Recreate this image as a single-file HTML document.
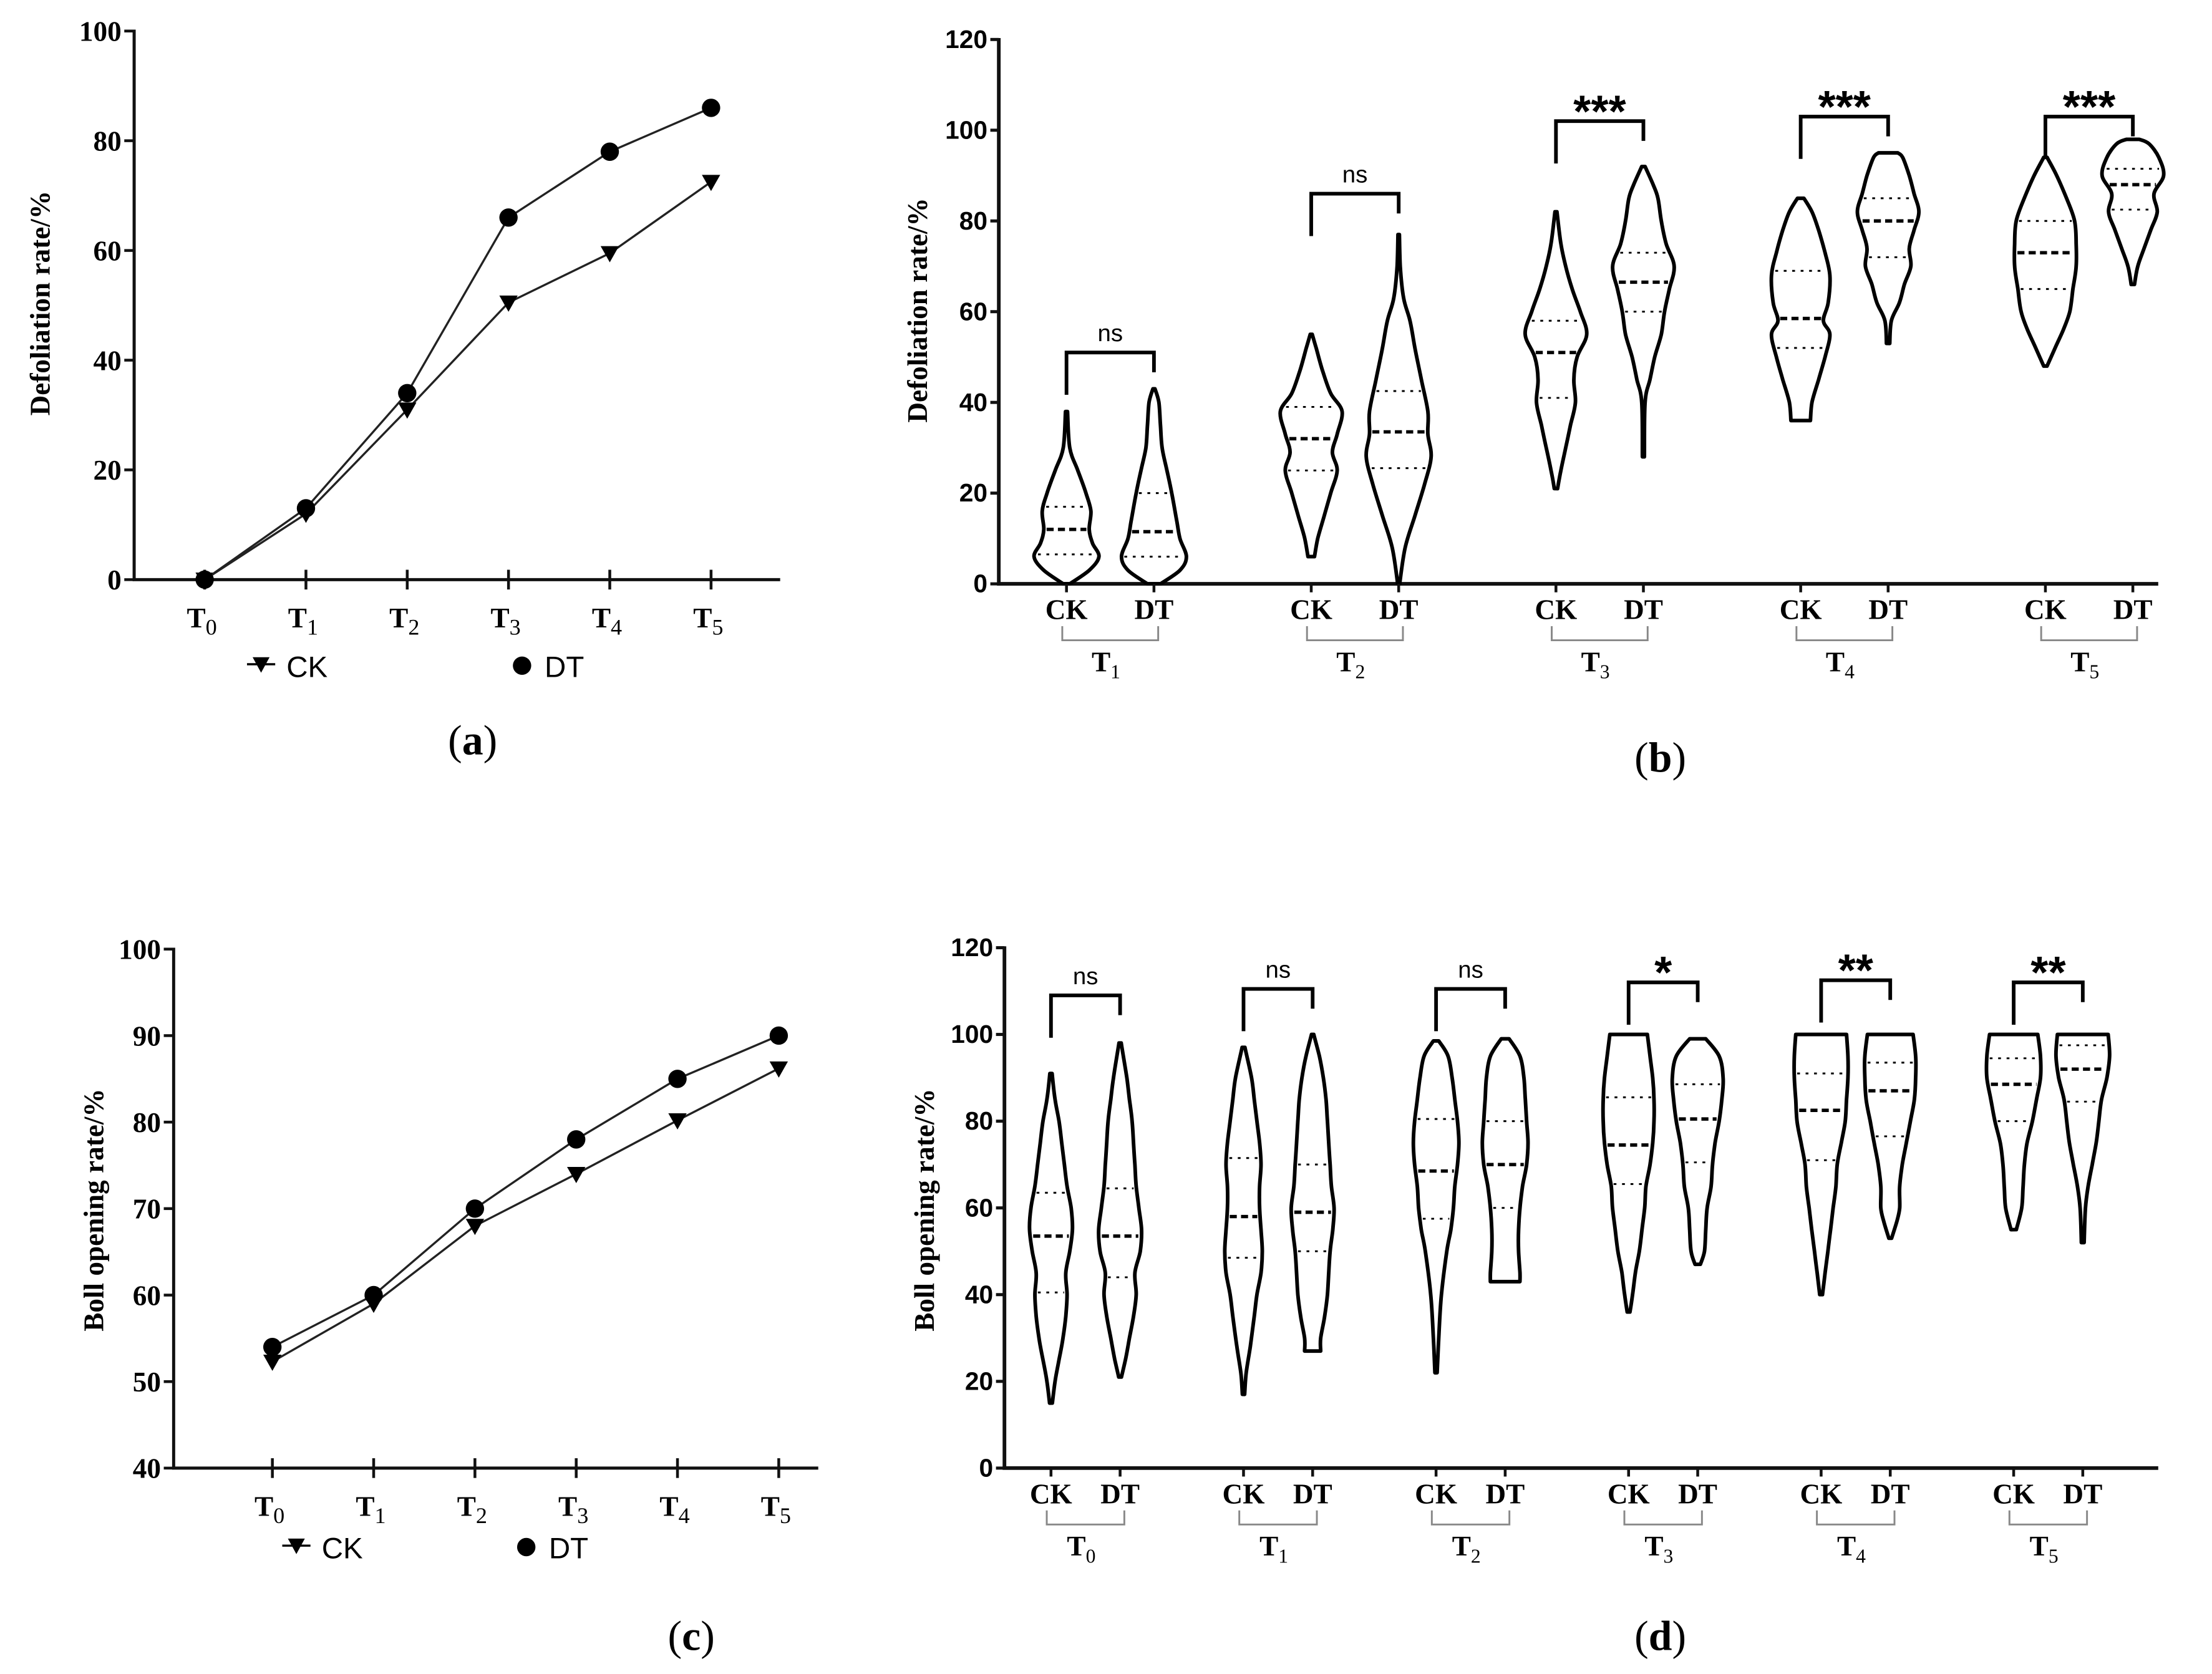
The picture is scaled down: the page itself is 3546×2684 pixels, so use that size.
<!DOCTYPE html>
<html><head><meta charset="utf-8"><style>
html,body{margin:0;padding:0;background:#fff}
svg{display:block}
.tk{font-family:"Liberation Serif",serif;font-weight:bold;font-size:20px}
.tks{font-family:"Liberation Sans",sans-serif;font-weight:bold;font-size:18px}
.ttl{font-family:"Liberation Serif",serif;font-weight:bold;font-size:20px}
.lg{font-family:"Liberation Sans",sans-serif;font-size:21px}
.pl{font-family:"Liberation Serif",serif;font-size:30px}
.sig{font-family:"Liberation Sans",sans-serif}
</style></head><body>
<svg id="fig" width="3546" height="2684" viewBox="0 0 1568 1187" xmlns="http://www.w3.org/2000/svg">
<g id="pa"></g>
<g id="pb"></g>
<g id="pc"></g>
<g id="pd"></g>
<text class="pl" x="335" y="535" text-anchor="middle">(<tspan font-weight="bold">a</tspan>)</text>
<text class="pl" x="1177" y="547" text-anchor="middle">(<tspan font-weight="bold">b</tspan>)</text>
<text class="pl" x="490" y="1170" text-anchor="middle">(<tspan font-weight="bold">c</tspan>)</text>
<text class="pl" x="1177" y="1170" text-anchor="middle">(<tspan font-weight="bold">d</tspan>)</text>
</svg>
<script>
const NS="http://www.w3.org/2000/svg";
// ---- data ----
const periodsA=["0","1","2","3","4","5"];
const ckA=[0,12,31,50.5,59.5,72.5];
const dtA=[0,13,34,66,78,86];
const ticksA=[0,20,40,60,80,100];
const ckC=[52.3,59,68,74,80.2,86.2];
const dtC=[54,60,70,78,85,90];
const ticksC=[40,50,60,70,80,90,100];
const ticksBD=[0,20,40,60,80,100,120];
const groupsB=["1","2","3","4","5"];
const sigB=["ns","ns","***","***","***"];
const sigLevelB=[51,86,102,103,103];
const statsB=[ // [min,max,q1,median,q3] CK then DT
 [[0,38,6.5,12,17],[0,43,6,11.5,20]],
 [[6,55,25,32,39],[0,77,25.5,33.5,42.5]],
 [[21,82,41,51,58],[28,92,60,66.5,73]],
 [[36,85,52,58.5,69],[53,95,72,80,85]],
 [[48,94,65,73,80],[66,98,82.5,88,91.5]]];
const densB=[
 [[[0,0.1],[3,0.7],[6,1],[9,0.8],[12,0.7],[16,0.75],[20,0.6],[25,0.35],[30,0.1],[38,0.03]],
  [[0,0.2],[3,0.8],[6,1],[10,0.8],[14,0.7],[20,0.55],[25,0.4],[30,0.25],[35,0.2],[40,0.15],[43,0.03]]],
 [[[6,0.1],[10,0.2],[15,0.4],[20,0.6],[25,0.8],[29,0.65],[33,0.8],[38,0.95],[42,0.6],[47,0.35],[52,0.15],[55,0.03]],
  [[0,0.03],[8,0.2],[15,0.5],[22,0.8],[28,1],[33,0.9],[38,0.9],[45,0.7],[52,0.5],[58,0.35],[63,0.15],[70,0.05],[77,0.02]]],
 [[[21,0.05],[25,0.15],[30,0.3],[35,0.45],[40,0.6],[45,0.55],[50,0.65],[55,0.95],[60,0.75],[65,0.5],[70,0.3],[75,0.15],[82,0.03]],
  [[28,0.03],[40,0.05],[45,0.2],[50,0.35],[55,0.55],[60,0.65],[65,0.8],[70,0.95],[75,0.7],[80,0.55],[85,0.45],[88,0.3],[92,0.05]]],
 [[[36,0.3],[40,0.35],[45,0.55],[50,0.75],[55,0.9],[58,0.7],[62,0.85],[68,0.9],[73,0.75],[78,0.55],[82,0.35],[85,0.1]],
  [[53,0.05],[58,0.1],[62,0.35],[66,0.5],[70,0.7],[74,0.65],[78,0.8],[82,0.95],[86,0.8],[90,0.65],[94,0.45],[95,0.3]]],
 [[[48,0.05],[52,0.3],[56,0.55],[60,0.75],[65,0.85],[70,0.95],[75,0.95],[80,0.9],[85,0.65],[90,0.35],[94,0.05]],
  [[66,0.05],[70,0.15],[74,0.35],[78,0.55],[82,0.75],[86,0.65],[90,0.95],[94,0.8],[97,0.5],[98,0.2]]]];
const groupsD=["0","1","2","3","4","5"];
const sigD=["ns","ns","ns","*","**","**"];
const sigLevelD=[109,110.5,110.5,112,112.5,112];
const statsD=[
 [[15,91,40.5,53.5,63.5],[21,98,44,53.5,64.5]],
 [[17,97,48.5,58,71.5],[27,100,50,59,70]],
 [[22,98.5,57.5,68.5,80.5],[43,99,60,70,80]],
 [[36,100,65.5,74.5,85.5],[47,99,70.5,80.5,88.5]],
 [[40,100,71,82.5,91],[53,100,76.5,87,93.5]],
 [[55,100,80,88.5,94.5],[52,100,84.5,92,97.5]]];
const densD=[
 [[[15,0.05],[20,0.15],[25,0.3],[30,0.45],[35,0.55],[40,0.6],[45,0.55],[50,0.7],[55,0.8],[60,0.75],[65,0.6],[70,0.5],[75,0.4],[80,0.3],[85,0.15],[91,0.04]],
  [[21,0.05],[25,0.2],[30,0.35],[35,0.5],[40,0.6],[45,0.55],[50,0.75],[55,0.8],[60,0.7],[65,0.6],[70,0.55],[75,0.5],[80,0.45],[85,0.35],[90,0.25],[98,0.04]]],
 [[[17,0.04],[22,0.1],[28,0.25],[35,0.4],[40,0.5],[45,0.65],[50,0.7],[55,0.65],[60,0.6],[65,0.6],[70,0.65],[75,0.6],[80,0.5],[85,0.4],[90,0.3],[97,0.05]],
  [[27,0.3],[30,0.3],[35,0.45],[40,0.55],[45,0.6],[50,0.65],[55,0.75],[60,0.8],[65,0.7],[70,0.65],[75,0.6],[80,0.55],[85,0.5],[90,0.4],[95,0.25],[100,0.04]]],
 [[[22,0.04],[30,0.1],[40,0.2],[50,0.4],[55,0.55],[60,0.65],[65,0.7],[70,0.8],[75,0.85],[80,0.8],[85,0.7],[90,0.6],[95,0.45],[98.5,0.1]],
  [[43,0.55],[45,0.55],[50,0.5],[55,0.5],[60,0.55],[65,0.65],[70,0.8],[75,0.85],[80,0.8],[85,0.75],[90,0.7],[95,0.55],[99,0.15]]],
 [[[36,0.05],[40,0.15],[45,0.25],[50,0.4],[55,0.5],[60,0.6],[65,0.65],[70,0.8],[75,0.9],[80,0.95],[85,0.95],[90,0.9],[95,0.8],[100,0.7]],
  [[47,0.1],[50,0.25],[55,0.3],[60,0.35],[65,0.5],[70,0.55],[75,0.65],[80,0.8],[85,0.9],[90,0.95],[95,0.8],[99,0.3]]],
 [[[40,0.05],[45,0.15],[50,0.25],[55,0.35],[60,0.45],[65,0.55],[70,0.6],[75,0.75],[80,0.9],[85,0.95],[90,1],[95,1],[100,0.95]],
  [[53,0.05],[57,0.25],[60,0.35],[65,0.35],[70,0.45],[75,0.6],[80,0.75],[85,0.9],[90,0.95],[95,0.95],[100,0.85]]],
 [[[55,0.1],[60,0.3],[65,0.35],[70,0.4],[75,0.5],[80,0.7],[85,0.85],[90,1],[95,1],[100,0.9]],
  [[52,0.05],[60,0.1],[65,0.2],[70,0.35],[75,0.5],[80,0.6],[85,0.7],[90,0.9],[95,1],[100,0.95]]]];

// ---- helpers ----
function mk(p,tag,at){const e=document.createElementNS(NS,tag);for(const k in at)e.setAttribute(k,at[k]);p.appendChild(e);return e;}
function lin(d0,d1,r0,r1){return v=>r0+(v-d0)*(r1-r0)/(d1-d0);}
function tlabel(p,x,y,sub,cls,size,fs){const t=mk(p,'text',{x:x,y:y,'text-anchor':'middle','class':cls});
 if(fs)t.setAttribute('font-size',fs);
 
 t.textContent='T';const s=mk(t,'tspan',{dy:5,'font-size':size,'font-weight':'normal'});s.textContent=sub;return t;}

function lineChart(g,cfg){
 const y=lin(cfg.ymin,cfg.ymax,cfg.y0,cfg.y1);
 const x=i=>cfg.xs0+i*cfg.dx;
 const ax=mk(g,'path',{d:`M${cfg.ax},${cfg.y1-1}V${cfg.y0}H${cfg.axEnd}`,stroke:'#111','stroke-width':2.2,fill:'none'});
 
 cfg.ticks.forEach(v=>{const l=mk(g,'line',{x1:cfg.ax-7,x2:cfg.ax,y1:y(v),y2:y(v),stroke:'#111','stroke-width':2});
  
  const t=mk(g,'text',{x:cfg.ax-9,y:y(v)+7,'text-anchor':'end','class':'tk'});t.textContent=v;
  });
 cfg.periods.forEach((p,i)=>{const l=mk(g,'line',{x1:x(i),x2:x(i),y1:cfg.y0-7,y2:cfg.y0+7,stroke:'#111','stroke-width':2});
  
  tlabel(g,x(i)-2,cfg.y0+34,p,'tk','16px','22px');});
 [[cfg.ck,'ck'],[cfg.dt,'dt']].forEach(([arr,nm])=>{
  const pl=mk(g,'polyline',{points:arr.map((v,i)=>x(i)+','+y(v)).join(' '),fill:'none',stroke:'#222','stroke-width':1.5});
  
  arr.forEach((v,i)=>{let m;
   if(nm==='dt'){m=mk(g,'circle',{cx:x(i),cy:y(v),r:6.5,fill:'#000'});}
   else{const X=x(i),Y=y(v);m=mk(g,'path',{d:`M${X-6.5},${Y-5}H${X+6.5}L${X},${Y+6.5}Z`,fill:'#000'});}
   });});
 const t=mk(g,'text',{x:0,y:0,transform:`translate(${cfg.tx},${cfg.ty}) rotate(-90)`,'text-anchor':'middle','class':'ttl'});t.textContent=cfg.title;
 
 const lx=cfg.legX, ly=cfg.legY;
 const m1=mk(g,'path',{d:`M${lx-6},${ly-6}H${lx+6}L${lx},${ly+5}Z`,fill:'#000'});
 mk(g,'line',{x1:lx-10,x2:lx+10,y1:ly-1,y2:ly-1,stroke:'#000','stroke-width':1.5});
 const t1=mk(g,'text',{x:lx+18,y:ly+8,'class':'lg'});t1.textContent='CK';
 const m2=mk(g,'circle',{cx:cfg.legX2,cy:ly,r:6.5,fill:'#000'});
 const t2=mk(g,'text',{x:cfg.legX2+16,y:ly+8,'class':'lg'});t2.textContent='DT';
}

function crPath(pts){let d=`M${pts[0][0]},${pts[0][1]}`;
 for(let i=0;i<pts.length-1;i++){const p0=pts[Math.max(0,i-1)],p1=pts[i],p2=pts[i+1],p3=pts[Math.min(pts.length-1,i+2)];
  const c1=[p1[0]+(p2[0]-p0[0])/6,p1[1]+(p2[1]-p0[1])/6],c2=[p2[0]-(p3[0]-p1[0])/6,p2[1]-(p3[1]-p1[1])/6];
  d+=`C${c1[0].toFixed(1)},${c1[1].toFixed(1)} ${c2[0].toFixed(1)},${c2[1].toFixed(1)} ${p2[0].toFixed(1)},${p2[1].toFixed(1)}`;}
 return d;}
function densAt(prof,v){for(let i=0;i<prof.length-1;i++){if(v>=prof[i][0]&&v<=prof[i+1][0]){const t=(v-prof[i][0])/(prof[i+1][0]-prof[i][0]);return prof[i][1]+t*(prof[i+1][1]-prof[i][1]);}}return 0;}

function violinChart(g,cfg){
 const y=lin(0,120,cfg.y0,cfg.y1);
 const ax=mk(g,'path',{d:`M${cfg.ax},${cfg.y1-1}V${cfg.y0}H${cfg.axEnd}`,stroke:'#111','stroke-width':2.6,fill:'none'});
 
 ticksBD.forEach(v=>{const l=mk(g,'line',{x1:cfg.ax-6,x2:cfg.ax,y1:y(v),y2:y(v),stroke:'#111','stroke-width':2.2});
  
  const t=mk(g,'text',{x:cfg.ax-8,y:y(v)+6,'text-anchor':'end','class':'tks'});t.textContent=v;
  });
 cfg.groups.forEach((gname,gi)=>{
  const cx=[cfg.x0+gi*cfg.gdx, cfg.x0+gi*cfg.gdx+cfg.pair];
  [0,1].forEach(k=>{
   const st=cfg.stats[gi][k], prof=cfg.dens[gi][k], X=cx[k], W=cfg.w;
   const right=prof.map(([v,d])=>[X+d*W,y(v)]);
   const left=prof.slice().reverse().map(([v,d])=>[X-d*W,y(v)]);
   let d=crPath(right)+'L'+left[0][0].toFixed(1)+','+left[0][1].toFixed(1)+crPath(left).replace(/^M[^C]*/,'')+'Z';
   const p=mk(g,'path',{d:d,fill:'none',stroke:'#000','stroke-width':2.6,'stroke-linejoin':'round'});
   
   [[st[2],'2,4',1.3],[st[3],'5,3',2.4],[st[4],'2,4',1.3]].forEach(([v,da,sw],qi)=>{
    const hw=densAt(prof,v)*W-2;
    const l=mk(g,'line',{x1:X-hw,x2:X+hw,y1:y(v),y2:y(v),stroke:'#000','stroke-width':sw,'stroke-dasharray':da});
    });
   const tk=mk(g,'line',{x1:X,x2:X,y1:cfg.y0,y2:cfg.y0+6,stroke:'#111','stroke-width':2});
   const t=mk(g,'text',{x:X,y:cfg.y0+25,'text-anchor':'middle','class':'tk'});t.textContent=k?'DT':'CK';
   
  });
  const bt=cfg.y0+30;
  const br=mk(g,'path',{d:`M${cx[0]-3},${bt}V${bt+10}H${cx[1]+3}V${bt}`,fill:'none',stroke:'#888','stroke-width':1.3});
  
  tlabel(g,(cx[0]+cx[1])/2-3,bt+32,gname,'tk','14px','20px');
  const sy=y(cfg.sigLevel[gi]);
  const sb=mk(g,'path',{d:`M${cx[0]},${sy+30}V${sy}H${cx[1]}V${sy+14}`,fill:'none',stroke:'#000','stroke-width':2.6});
  
  const s=cfg.sig[gi];
  const st=mk(g,'text',{x:(cx[0]+cx[1])/2,y:s==='ns'?sy-8:sy+4,'text-anchor':'middle','class':'sig',
   style:s==='ns'?'font-size:17px;font-weight:normal':'font-size:32px;font-weight:bold'});
  st.textContent=s;
 });
 const t=mk(g,'text',{x:0,y:0,transform:`translate(${cfg.tx},${cfg.ty}) rotate(-90)`,'text-anchor':'middle','class':'ttl'});t.textContent=cfg.title;
 
}

lineChart(document.getElementById('pa'),{ymin:0,ymax:100,y0:411,y1:22,ax:95,axEnd:553,xs0:145,dx:71.8,ticks:ticksA,periods:periodsA,ck:ckA,dt:dtA,
 title:'Defoliation rate/%',tx:35,ty:215,legX:185,legY:472,legX2:370});
lineChart(document.getElementById('pc'),{ymin:40,ymax:100,y0:1041,y1:673,ax:123,axEnd:580,xs0:193,dx:71.8,ticks:ticksC,periods:periodsA,ck:ckC,dt:dtC,
 title:'Boll opening rate/%',tx:73,ty:858,legX:210,legY:1097,legX2:373});
violinChart(document.getElementById('pb'),{y0:414,y1:28,ax:708,axEnd:1530,x0:756,gdx:173.5,pair:62,w:23,groups:groupsB,stats:statsB,dens:densB,sig:sigB,sigLevel:sigLevelB,
 title:'Defoliation rate/%',tx:657,ty:220});
violinChart(document.getElementById('pd'),{y0:1041,y1:672,ax:712,axEnd:1530,x0:745,gdx:136.5,pair:49,w:19,groups:groupsD,stats:statsD,dens:densD,sig:sigD,sigLevel:sigLevelD,
 title:'Boll opening rate/%',tx:662,ty:858});
</script>
</body></html>
